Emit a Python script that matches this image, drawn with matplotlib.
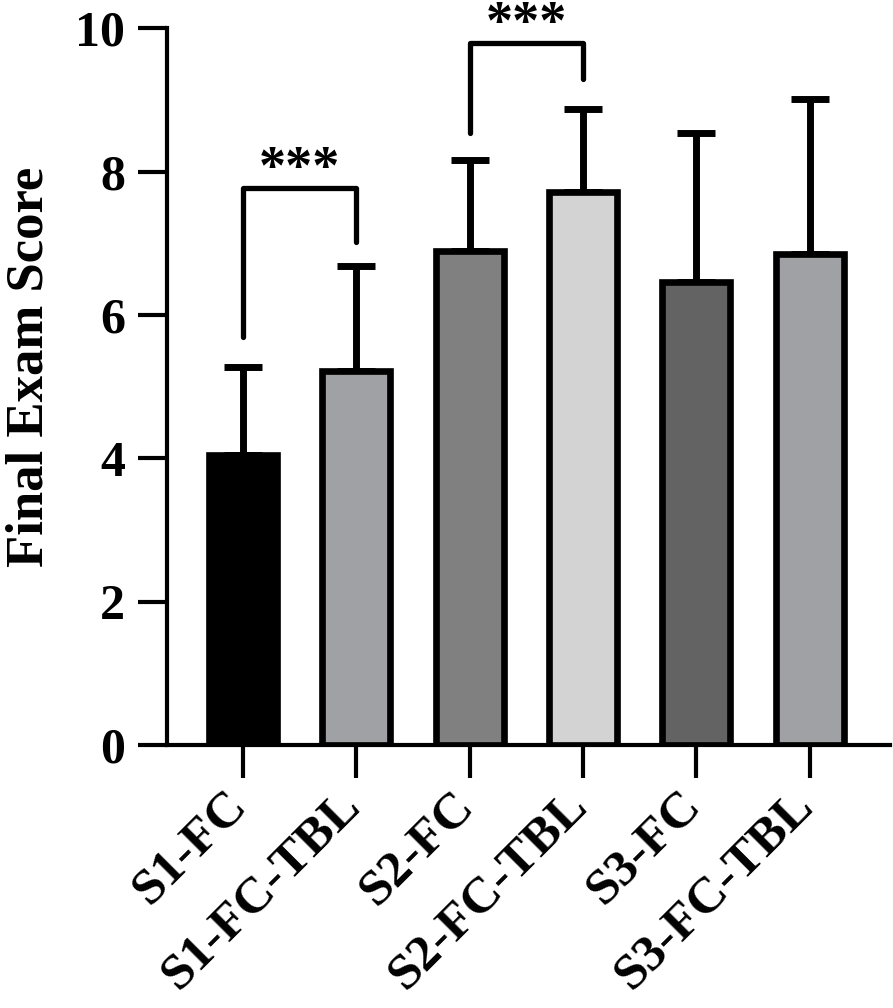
import numpy as np
import matplotlib
matplotlib.use("Agg")
import matplotlib.pyplot as plt
import matplotlib.transforms as mtransforms

# values
groups = ["S1-FC", "S1-FC-TBL", "S2-FC", "S2-FC-TBL", "S3-FC", "S3-FC-TBL"]
means = [4.05, 5.22, 6.90, 7.72, 6.46, 6.85]
sds = [1.22, 1.46, 1.26, 1.16, 2.08, 2.17]
colors = ["#000000", "#a0a1a4", "#808080", "#d3d3d3", "#636363", "#a0a1a4"]

# significance brackets: (left bar, right bar, top, left leg bottom, right leg bottom)
brackets = [(0, 1, 7.77, 5.70, 7.02), (2, 3, 9.79, 8.54, 9.30)]

plt.rcParams["font.family"] = ["Liberation Serif", "DejaVu Serif"]
plt.rcParams["font.weight"] = "bold"

fig = plt.figure(figsize=(8.93, 10.08), dpi=100)
ax = fig.add_axes([0.1867, 0.261, 0.81, 0.7108])

x = np.arange(len(groups))
ax.errorbar(x, means, yerr=[np.zeros(len(sds)), sds], fmt="none",
            ecolor="black", elinewidth=5, capsize=14, capthick=5, zorder=1)
ax.bar(x, means, width=0.6, color=colors, edgecolor="black",
       linewidth=4.8, zorder=2)

for i, j, top, lb, rb in brackets:
    ax.plot([x[i], x[i], x[j], x[j]], [lb, top, top, rb], color="black",
            lw=3.8, solid_capstyle="round", clip_on=False, zorder=3)
    ax.text((x[i] + x[j]) / 2, top + 0.07, "***", ha="center", va="baseline",
            fontsize=39, fontweight="bold", clip_on=False)

ax.set_xlim(-0.673, 5.71)
ax.set_ylim(0, 10)
ax.set_yticks([0, 2, 4, 6, 8, 10])
ax.set_xticks(x)
ax.set_xticklabels(groups, rotation=45, ha="right", rotation_mode="anchor")

ax.spines["top"].set_visible(False)
ax.spines["right"].set_visible(False)
ax.spines["left"].set_linewidth(3)
ax.spines["bottom"].set_linewidth(3)
ax.tick_params(axis="y", direction="out", length=21, width=3, pad=9,
               labelsize=36)
ax.tick_params(axis="x", direction="out", length=24, width=3, pad=3,
               labelsize=37)
shift = mtransforms.ScaledTranslation(-14 / 72, 0, fig.dpi_scale_trans)
for lab in ax.get_xticklabels():
    lab.set_fontweight("bold")
    lab.set_transform(lab.get_transform() + shift)
for lab in ax.get_yticklabels():
    lab.set_fontweight("bold")

ax.set_ylabel("Final Exam Score", fontsize=38, fontweight="bold")
ax.yaxis.set_label_coords(-0.157, 0.527)

fig.savefig("out.png", dpi=100)
plt.close(fig)
